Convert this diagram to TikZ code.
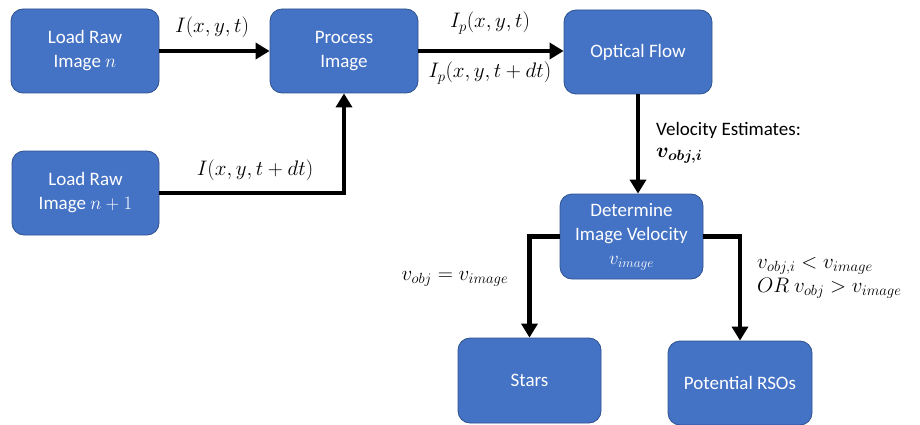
\RequirePackage{fix-cm}
\documentclass[tikz,border=0pt]{standalone}
\usepackage{amsmath}
\usepackage{bm}
\usepackage{fontspec}
\setmainfont{Carlito}
\usetikzlibrary{arrows.meta}
\definecolor{boxblue}{HTML}{4472C4}
\definecolor{boxedge}{HTML}{2F528F}
\tikzset{
  box/.style={rectangle, rounded corners=12pt, fill=boxblue, draw=boxedge, line width=0.8pt,
    text=white, align=center, font=\fontsize{19}{24}\selectfont, inner sep=2pt},
  arr/.style={line width=4.5pt, -{Triangle[length=14pt,width=16pt]}},
  lbl/.style={inner sep=0pt, font=\fontsize{21}{24}\selectfont},
  txt/.style={inner sep=0pt, anchor=west, font=\fontsize{19}{24}\selectfont}
}
\begin{document}
\begin{tikzpicture}[x=1pt,y=-1pt]
\useasboundingbox (0,0) rectangle (920,425);
\node[box, minimum width=148pt, minimum height=84pt] (b1) at (85,51) {Load Raw\\Image $n$};
\node[box, minimum width=148pt, minimum height=84pt] (proc) at (344,51) {Process\\Image};
\node[box, minimum width=147pt, minimum height=84pt] (b2) at (85.5,193) {Load Raw\\Image $n+1$};
\node[box, minimum width=148pt, minimum height=84pt] (opt) at (638,52) {Optical Flow};
\node[box, minimum width=143pt, minimum height=85pt] (det) at (631.5,236.5) {Determine\\Image Velocity\\$v_{image}$};
\node[box, minimum width=143pt, minimum height=85pt] (stars) at (529.5,380.5) {Stars};
\node[box, minimum width=144pt, minimum height=84pt] (rso) at (740,383) {Potential RSOs};

\draw[arr] (b1.east) -- (proc.west);
\draw[arr] (b2.east) -| (proc.south);
\draw[arr] (proc.east) -- (proc.east -| opt.west);
\draw[arr] (opt.south) -- (opt.south |- det.north);
\draw[arr] (det.west) -| (stars.north);
\draw[arr] (det.east) -| (rso.north);

\node[lbl] (l1) at (212,27) {$I(x,y,t)$};
\node[lbl] (l2) at (255,170) {$I(x,y,t+dt)$};
\node[lbl] (l3) at (490,23) {$I_p(x,y,t)$};
\node[lbl] (l4) at (490,73) {$I_p(x,y,t+dt)$};
\node[txt] (l5) at (656,130) {Velocity Estimates:};
\node[lbl, anchor=west] (l6) at (656,156) {$\bm{v_{obj,i}}$};
\node[lbl] (l7) at (455,279) {$v_{obj}=v_{image}$};
\node[lbl, anchor=west] (l8) at (757,266) {$v_{obj,i}<v_{image}$};
\node[lbl, anchor=west] (l9) at (757,288) {$OR\ v_{obj}>v_{image}$};
\end{tikzpicture}
\end{document}
